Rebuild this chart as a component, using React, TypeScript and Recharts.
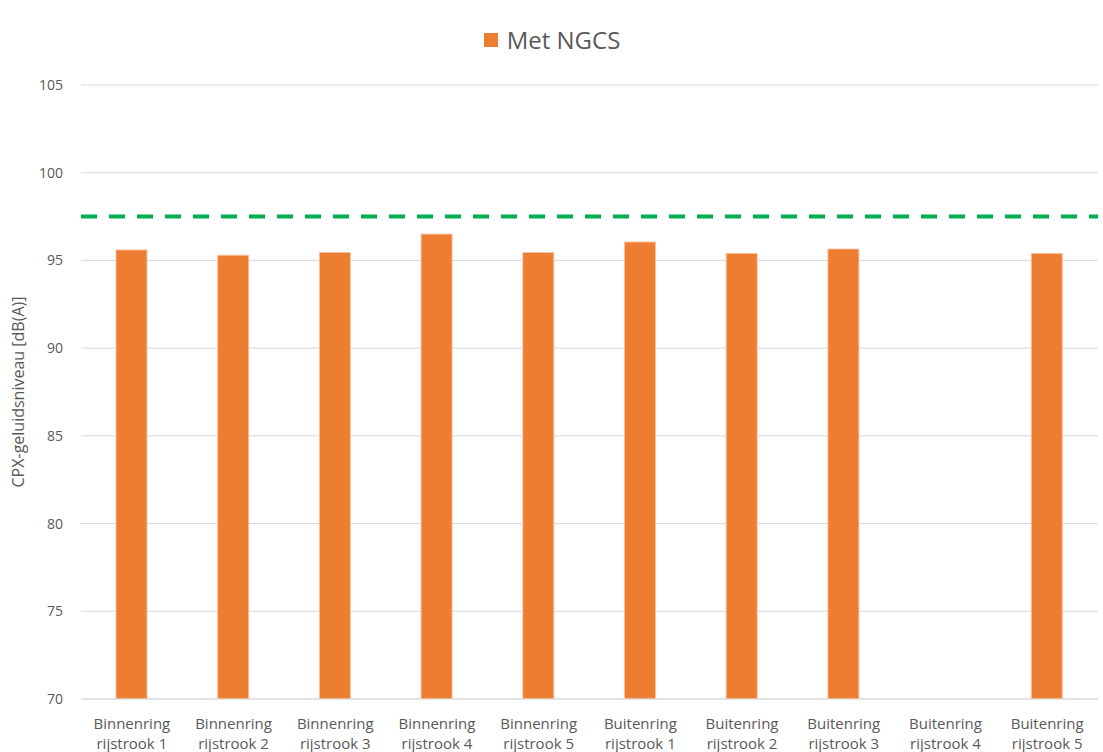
import { Bar, BarChart, CartesianGrid, Legend, ReferenceLine, XAxis, YAxis } from 'recharts';

const ringen = ['Binnenring', 'Binnenring', 'Binnenring', 'Binnenring', 'Binnenring', 'Buitenring', 'Buitenring', 'Buitenring', 'Buitenring', 'Buitenring'];
const stroken = ['rijstrook 1', 'rijstrook 2', 'rijstrook 3', 'rijstrook 4', 'rijstrook 5', 'rijstrook 1', 'rijstrook 2', 'rijstrook 3', 'rijstrook 4', 'rijstrook 5'];
const metNgcs: (number | null)[] = [95.6, 95.3, 95.45, 96.5, 95.45, 96.05, 95.4, 95.65, null, 95.4];
const yTicks = [70, 75, 80, 85, 90, 95, 100, 105];
const grenswaarde = 97.5;

const data = ringen.map((ring, i) => ({
  name: `${ring} ${stroken[i]}`,
  ring,
  strook: stroken[i],
  metNgcs: metNgcs[i],
}));

const FONT = '"Open Sans", "Noto Sans", sans-serif';
const TEXT = '#595959';

const TwoLineTick = (props: any) => {
  const { x, y, index } = props;
  return (
    <g transform={`translate(${x},${y})`}>
      <text textAnchor="middle" fill={TEXT} fontSize={15} fontFamily={FONT}>
        <tspan x={0} dy={22}>{ringen[index]}</tspan>
        <tspan x={0} dy={20}>{stroken[index]}</tspan>
      </text>
    </g>
  );
};

const LegendContent = () => (
  <div style={{ display: 'flex', justifyContent: 'center', alignItems: 'center', paddingTop: 3, paddingLeft: 6, fontFamily: FONT }}>
    <span style={{ width: 14, height: 14, background: '#ed7d31', display: 'inline-block', marginRight: 9 }} />
    <span style={{ fontSize: 24, color: TEXT }}>Met NGCS</span>
  </div>
);

const App = () => (
  <div style={{ position: 'absolute', left: 0, top: 0, background: '#fff' }}>
    <BarChart width={1103} height={752} data={data} margin={{ top: 20, right: 5, left: 0, bottom: 0 }}>
      <CartesianGrid vertical={false} stroke="#d9d9d9" />
      <Legend verticalAlign="top" height={65} content={<LegendContent />} />
      <XAxis
        dataKey="name"
        interval={0}
        height={53}
        tick={<TwoLineTick />}
        tickLine={false}
        axisLine={{ stroke: '#d9d9d9' }}
      />
      <YAxis
        width={81}
        domain={[70, 105]}
        ticks={yTicks}
        allowDataOverflow
        tickLine={false}
        axisLine={false}
        tickSize={0}
        tickMargin={18}
        tick={{ fill: TEXT, fontSize: 14, fontFamily: FONT }}
        label={{
          value: 'CPX-geluidsniveau [dB(A)]',
          angle: -90,
          position: 'insideLeft',
          offset: 18,
          style: { textAnchor: 'middle', fill: TEXT, fontSize: 16, fontFamily: FONT },
        }}
      />
      <Bar dataKey="metNgcs" name="Met NGCS" fill="#ed7d31" stroke="#f6c29f" strokeWidth={1} barSize={31} isAnimationActive={false} />
      <ReferenceLine y={grenswaarde} stroke="#00b050" strokeWidth={4} strokeDasharray="16 12" />
    </BarChart>
  </div>
);

export default App;
